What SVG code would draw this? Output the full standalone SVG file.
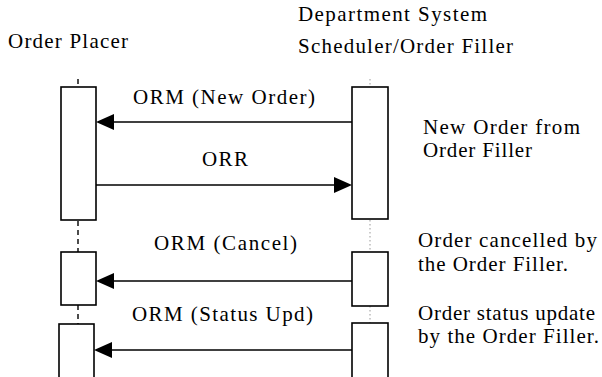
<svg xmlns="http://www.w3.org/2000/svg" width="602" height="377" viewBox="0 0 602 377">
<defs>
<style>
.box{fill:#fff;stroke:#000;stroke-width:1.6}
.msg{stroke:#000;stroke-width:1.6;fill:none}
.head{fill:#000;stroke:none}
.lifeL{stroke:#000;stroke-width:1.4;stroke-dasharray:5 4;fill:none}
.lifeR{stroke:#999;stroke-width:1;stroke-dasharray:1.5 2.5;fill:none}
</style>
</defs>
<rect width="602" height="377" fill="#fff"/>
<g id="placer-head"><text x="8" y="48" font-size="21" font-family="Liberation Serif" textLength="120" lengthAdjust="spacing">Order Placer</text></g>
<g id="filler-head">
<text x="298" y="21" font-size="21" font-family="Liberation Serif" textLength="189" lengthAdjust="spacing">Department System</text>
<text x="298" y="53" font-size="21" font-family="Liberation Serif" textLength="215" lengthAdjust="spacing">Scheduler/Order Filler</text>
</g>
<g id="lifelines">
<line class="lifeL" x1="78" y1="79" x2="78" y2="87"/>
<line class="lifeL" x1="78" y1="221" x2="78" y2="252"/>
<line class="lifeL" x1="78" y1="305" x2="78" y2="324"/>
<line class="lifeR" x1="370" y1="79" x2="370" y2="87"/>
<line class="lifeR" x1="370" y1="220" x2="370" y2="252"/>
<line class="lifeR" x1="370" y1="306" x2="370" y2="323"/>
</g>
<g id="placer-new"><rect class="box" x="61" y="87" width="35" height="133"/></g>
<g id="filler-new"><rect class="box" x="352" y="87" width="36" height="132"/></g>
<g id="placer-cancel"><rect class="box" x="61" y="252" width="35" height="53"/></g>
<g id="filler-cancel"><rect class="box" x="352" y="252" width="36" height="54"/></g>
<g id="placer-status"><rect class="box" x="59" y="324" width="35" height="60"/></g>
<g id="filler-status"><rect class="box" x="352" y="323" width="36" height="61"/></g>
<g id="connectors">
<line class="msg" x1="352" y1="122" x2="112" y2="122"/>
<polygon class="head" points="96,122 114,114 114,130"/>
<line class="msg" x1="96" y1="185" x2="336" y2="185"/>
<polygon class="head" points="352,185 334,177 334,193"/>
<line class="msg" x1="352" y1="281" x2="112" y2="281"/>
<polygon class="head" points="96,281 114,273 114,289"/>
<line class="msg" x1="352" y1="350" x2="110" y2="350"/>
<polygon class="head" points="94,350 112,342 112,358"/>
<text x="133" y="104" font-size="21" font-family="Liberation Serif" textLength="182" lengthAdjust="spacing">ORM (New Order)</text>
<text x="202" y="166" font-size="21" font-family="Liberation Serif" textLength="46" lengthAdjust="spacing">ORR</text>
<text x="154" y="250" font-size="21" font-family="Liberation Serif" textLength="143" lengthAdjust="spacing">ORM (Cancel)</text>
<text x="132" y="321" font-size="21" font-family="Liberation Serif" textLength="181" lengthAdjust="spacing">ORM (Status Upd)</text>
</g>
<g id="notes">
<text x="423" y="134" font-size="21" font-family="Liberation Serif" textLength="157" lengthAdjust="spacing">New Order from</text>
<text x="423" y="157" font-size="21" font-family="Liberation Serif" textLength="109" lengthAdjust="spacing">Order Filler</text>
<text x="418" y="247" font-size="21" font-family="Liberation Serif" textLength="179" lengthAdjust="spacing">Order cancelled by</text>
<text x="418" y="271" font-size="21" font-family="Liberation Serif" textLength="150" lengthAdjust="spacing">the Order Filler.</text>
<text x="418" y="320" font-size="21" font-family="Liberation Serif" textLength="177" lengthAdjust="spacing">Order status update</text>
<text x="418" y="343" font-size="21" font-family="Liberation Serif" textLength="181" lengthAdjust="spacing">by the Order Filler.</text>
</g>
</svg>
